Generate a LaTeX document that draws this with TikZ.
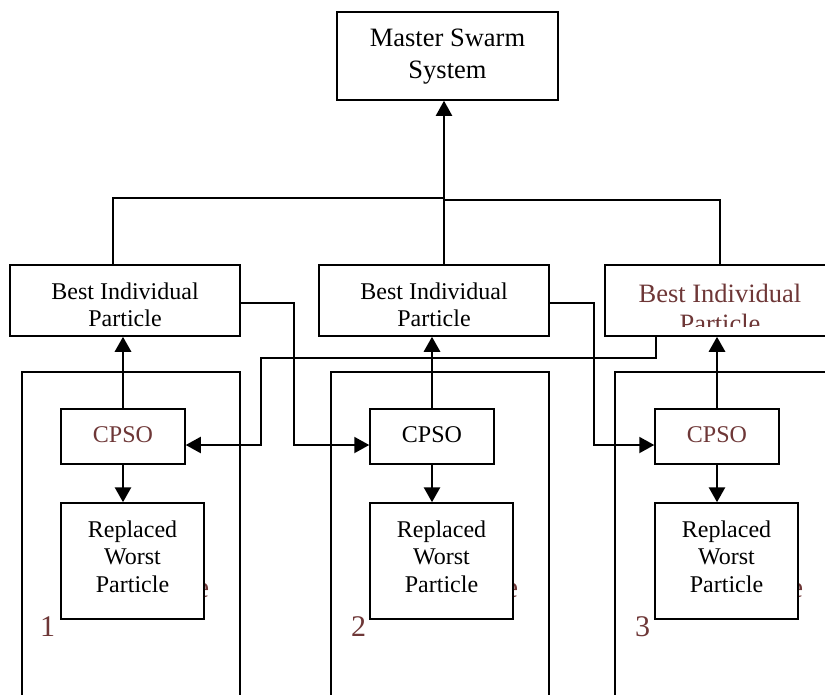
\documentclass[tikz,border=0pt]{standalone}
\usepackage{fontspec}
\setmainfont{Liberation Serif}
\usetikzlibrary{arrows.meta}
\definecolor{brn}{RGB}{110,55,55}
\begin{document}
\begin{tikzpicture}[x=1pt,y=-1pt,
 box/.style={draw,line width=1.5pt,fill=white,inner sep=0pt,align=center},
 fs/.style={font=\fontsize{24}{27.5}\selectfont},
 fb/.style={font=\fontsize{26.5}{30}\selectfont},
 fn/.style={font=\fontsize{30}{32}\selectfont,text=brn,inner sep=0pt},
 arr/.style={line width=2.8pt,-{Triangle[length=15pt,width=16pt]}},
 link/.style={line width=2pt,-{Triangle[length=15pt,width=16pt]}},
 wire/.style={line width=1.5pt}]
\useasboundingbox (0,0) rectangle (825,694);
\clip (0,0) rectangle (825,694);
% outer frames
\draw[wire] (22,372) rectangle (240,710);
\draw[wire] (331,372) rectangle (549,710);
\draw[wire] (615,372) rectangle (850,710);
% hidden brown texts
\node[fn,anchor=base east] at (209.5,597) {e};
\node[fn,anchor=base east] at (518.5,597) {e};
\node[fn,anchor=base east] at (803.5,597) {e};
\node[fn,anchor=base west] (n1) at (40,636) {1};
\node[fn,anchor=base west] (n2) at (351,636) {2};
\node[fn,anchor=base west] (n3) at (635,636) {3};
% master
\node[box,minimum width=221pt,minimum height=88pt] (m) at (447.5,56) {};
\node[font=\fontsize{26.5}{32}\selectfont,align=center] (mt) at (447.5,57) {Master Swarm\\System};
% best boxes
\node[box,minimum width=230pt,minimum height=71pt] (b1) at (125,300.5) {};
\node[box,minimum width=230pt,minimum height=71pt] (b2) at (434,300.5) {};
\node[box,minimum width=230pt,minimum height=71pt] (b3) at (720,300.5) {};
\node[fs,align=center] (b1t) at (125,305) {Best Individual\\Particle};
\node[fs,align=center] (b2t) at (434,305) {Best Individual\\Particle};
\begin{scope}
\clip (606,266) rectangle (834,326);
\node[fb,text=brn,align=center] (b3t) at (720,308) {Best Individual\\Particle};
\end{scope}
% cpso boxes
\node[box,minimum width=124pt,minimum height=55pt] (c1) at (123,436.5) {};
\node[box,minimum width=124pt,minimum height=55pt] (c2) at (432,436.5) {};
\node[box,minimum width=124pt,minimum height=55pt] (c3) at (717,436.5) {};
\node[fs,text=brn] (c1t) at (123,435) {CPSO};
\node[fs] (c2t) at (432,435) {CPSO};
\node[fs,text=brn] (c3t) at (717,435) {CPSO};
% replaced boxes
\node[box,minimum width=143pt,minimum height=116pt] (p1) at (132.5,561) {};
\node[box,minimum width=143pt,minimum height=116pt] (p2) at (441.5,561) {};
\node[box,minimum width=143pt,minimum height=116pt] (p3) at (726.5,561) {};
\node[fs,align=center] (p1t) at (132.5,556.5) {Replaced\\Worst\\Particle};
\node[fs,align=center] (p2t) at (441.5,556.5) {Replaced\\Worst\\Particle};
\node[fs,align=center] (p3t) at (726.5,556.5) {Replaced\\Worst\\Particle};
% tree to master
\coordinate (jl) at (113,198);
\coordinate (ja) at (444,198);
\coordinate (jr) at (720,200);
\draw[wire] (b1.north -| jl) -- (jl) -- (ja);
\draw[wire] (b3.north -| jr) -- (jr) -- (ja |- jr);
\draw[link] (b2.north -| ja) -- (m.south -| ja);
% vertical arrows
\draw[arr] (c1.north) -- (b1.south -| c1.north);
\draw[arr] (c2.north) -- (b2.south -| c2.north);
\draw[arr] (c3.north) -- (b3.south -| c3.north);
\draw[arr] (c1.south) -- (p1.north -| c1.south);
\draw[arr] (c2.south) -- (p2.north -| c2.south);
\draw[arr] (c3.south) -- (p3.north -| c3.south);
% routed links
\coordinate (r1) at (294,445);
\coordinate (r2) at (594,445);
\coordinate (r3a) at (656,358);
\coordinate (r3b) at (261,445);
\draw[link] (b1.east |- 0,303) -| (r1) -- (c2.west |- r1);
\draw[link] (b2.east |- 0,303) -| (r2) -- (c3.west |- r2);
\draw[link] (r3a |- b3.south) -- (r3a) -| (r3b) -- (c1.east |- r3b);
\end{tikzpicture}
\end{document}
